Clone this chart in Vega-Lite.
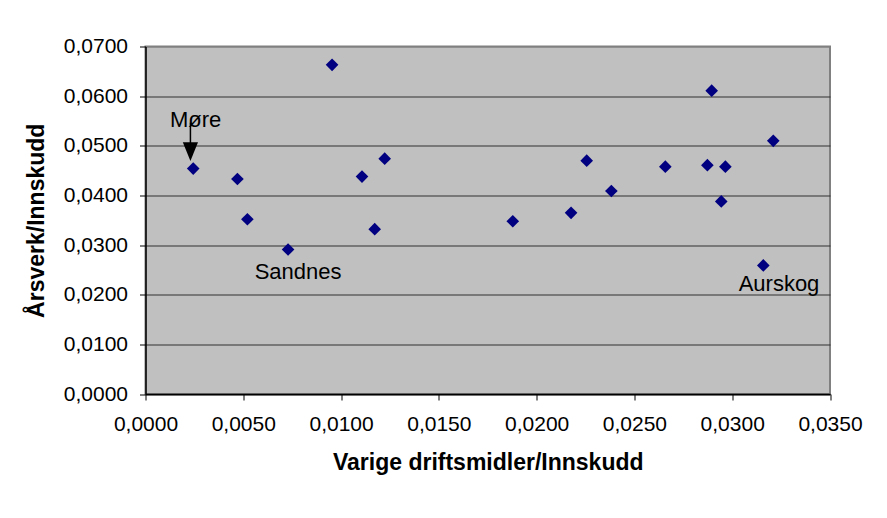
{
  "$schema": "https://vega.github.io/schema/vega-lite/v6.json",
  "width": 684.5,
  "height": 347.5,
  "autosize": {"type": "none"},
  "padding": {"left": 145.5, "top": 46.5, "right": 57, "bottom": 124},
  "background": "white",
  "config": {
    "font": "Liberation Sans",
    "view": {"fill": "#C0C0C0", "stroke": "#808080", "strokeWidth": 2}
  },
  "data": {
    "values": [
      {"x": 0.00244, "y": 0.0454, "label": "Møre"},
      {"x": 0.00470, "y": 0.0433},
      {"x": 0.00521, "y": 0.0352},
      {"x": 0.00729, "y": 0.0291, "label": "Sandnes"},
      {"x": 0.00954, "y": 0.0663},
      {"x": 0.01107, "y": 0.0438},
      {"x": 0.01223, "y": 0.0474},
      {"x": 0.01172, "y": 0.0332},
      {"x": 0.01878, "y": 0.0348},
      {"x": 0.02176, "y": 0.0365},
      {"x": 0.02256, "y": 0.0470},
      {"x": 0.02382, "y": 0.0409},
      {"x": 0.02658, "y": 0.0458},
      {"x": 0.02873, "y": 0.0461},
      {"x": 0.02895, "y": 0.0611},
      {"x": 0.02965, "y": 0.0458},
      {"x": 0.02944, "y": 0.0388},
      {"x": 0.03210, "y": 0.0510},
      {"x": 0.03159, "y": 0.0259, "label": "Aurskog"}
    ]
  },
  "encoding": {
    "x": {
      "field": "x",
      "type": "quantitative",
      "scale": {"domain": [0, 0.035], "nice": false},
      "axis": {
        "title": "Varige driftsmidler/Innskudd",
        "values": [0, 0.005, 0.01, 0.015, 0.02, 0.025, 0.03, 0.035],
        "grid": false,
        "domainColor": "#000000",
        "domainWidth": 1.5,
        "tickColor": "#000000",
        "tickSize": 6,
        "labelFontSize": 21,
        "labelColor": "#000000",
        "labelPadding": 13,
        "labelFlush": false,
        "labelOverlap": false,
        "labelExpr": "replace(format(datum.value, '.4f'), '.', ',')",
        "titleFontSize": 23,
        "titleFontWeight": "bold",
        "titleColor": "#000000",
        "titlePadding": 17
      }
    },
    "y": {
      "field": "y",
      "type": "quantitative",
      "scale": {"domain": [0, 0.07], "nice": false},
      "axis": {
        "title": "Årsverk/Innskudd",
        "values": [0, 0.01, 0.02, 0.03, 0.04, 0.05, 0.06, 0.07],
        "grid": true,
        "gridColor": {"condition": {"test": "datum.value >= 0.07", "value": "#808080"}, "value": "#303030"},
        "gridWidth": 1,
        "gridOpacity": 1,
        "domainColor": "#000000",
        "domainWidth": 1.5,
        "tickColor": "#000000",
        "tickSize": 6,
        "labelFontSize": 21,
        "labelColor": "#000000",
        "labelPadding": 12,
        "labelOverlap": false,
        "labelExpr": "replace(format(datum.value, '.4f'), '.', ',')",
        "titleFontSize": 23,
        "titleFontWeight": "bold",
        "titleColor": "#000000",
        "titlePadding": 15
      }
    }
  },
  "layer": [
    {
      "mark": {"type": "point", "shape": "diamond", "filled": true, "color": "#000080", "size": 160, "opacity": 1}
    },
    {
      "transform": [{"filter": "datum.label === 'Møre'"}],
      "mark": {"type": "rule", "color": "#000000", "strokeWidth": 1.5, "xOffset": -2.8, "x2Offset": -2.8, "yOffset": -46, "y2Offset": -20},
      "encoding": {"x2": {"field": "x"}, "y2": {"field": "y"}}
    },
    {
      "transform": [{"filter": "datum.label === 'Møre'"}],
      "mark": {"type": "point", "shape": "M-0.8,-1L0.8,-1L0,1Z", "filled": true, "color": "#000000", "opacity": 1, "size": 360, "xOffset": -2.8, "yOffset": -17}
    },
    {
      "transform": [{"filter": "datum.label === 'Møre'"}],
      "mark": {"type": "text", "fontSize": 22, "color": "#000000", "baseline": "alphabetic", "align": "center", "dx": 2.4, "dy": -41.7},
      "encoding": {"text": {"field": "label"}}
    },
    {
      "transform": [{"filter": "datum.label === 'Sandnes'"}],
      "mark": {"type": "text", "fontSize": 22, "color": "#000000", "baseline": "alphabetic", "align": "center", "dx": 10, "dy": 29},
      "encoding": {"text": {"field": "label"}}
    },
    {
      "transform": [{"filter": "datum.label === 'Aurskog'"}],
      "mark": {"type": "text", "fontSize": 22, "color": "#000000", "baseline": "alphabetic", "align": "center", "dx": 15.7, "dy": 25.4},
      "encoding": {"text": {"field": "label"}}
    }
  ]
}
